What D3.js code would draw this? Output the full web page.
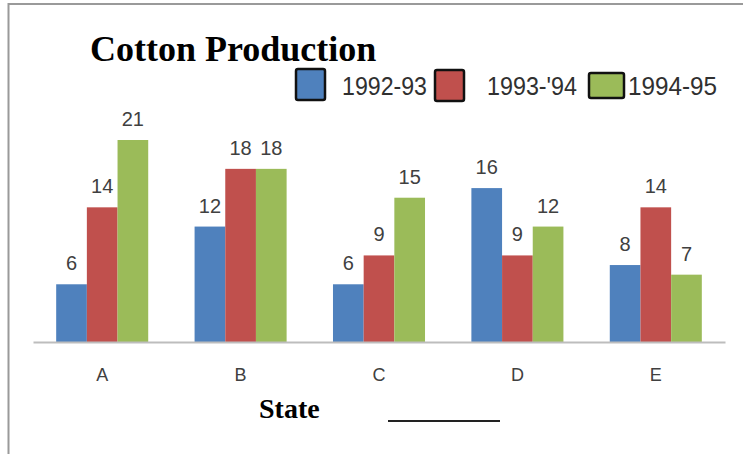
<!DOCTYPE html>
<html><head><meta charset="utf-8">
<script src="https://cdn.jsdelivr.net/npm/d3@7"></script>
<style>body{margin:0;background:#fff}svg{display:block}</style>
</head><body>
<script>
const categories = ["A","B","C","D","E"];
const seriesNames = ["1992-93","1993-'94","1994-95"];
const s1992 = [6,12,6,16,8];
const s1993 = [14,18,9,9,14];
const s1994 = [21,18,15,12,7];
const colors = ["#4f81bd","#c0504d","#9bbb59"];
const series = [s1992, s1993, s1994];

const W = 743, H = 454;
const svg = d3.select("body").append("svg").attr("width", W).attr("height", H);

// frame
svg.append("line").attr("x1",8).attr("x2",W).attr("y1",4).attr("y2",4).attr("stroke","#9a9a9a").attr("stroke-width",2);
svg.append("line").attr("x1",8.5).attr("x2",8.5).attr("y1",3).attr("y2",H).attr("stroke","#9a9a9a").attr("stroke-width",2);

const x0 = d3.scaleBand().domain(categories).range([33,725]).paddingInner(0.335).paddingOuter(0.1675);
const x1 = d3.scaleBand().domain(d3.range(3)).range([0, x0.bandwidth()]);
const y = d3.scaleLinear().domain([0,21]).range([342,140]);

const g = svg.append("g");
categories.forEach((c, ci) => {
  series.forEach((s, si) => {
    const v = s[ci];
    g.append("rect")
      .attr("x", x0(c) + x1(si))
      .attr("width", x1.bandwidth())
      .attr("y", y(v))
      .attr("height", y(0) - y(v))
      .attr("fill", colors[si]);
    g.append("text")
      .attr("x", x0(c) + x1(si) + x1.bandwidth()/2)
      .attr("y", y(v) - 14)
      .attr("text-anchor","middle")
      .attr("font-family","'Liberation Sans', Arial, sans-serif")
      .attr("font-size",20)
      .attr("fill","#404040")
      .text(v);
  });
});

// axis
const axis = d3.axisBottom(x0).tickSize(0).tickPadding(0);
const ax = svg.append("g").attr("transform","translate(0,342)").call(axis);
ax.select(".domain").attr("stroke","#bdbdbd").attr("stroke-width",2);
ax.selectAll(".tick text")
  .attr("y", 39).attr("dy", null)
  .attr("font-family","'Liberation Sans', Arial, sans-serif")
  .attr("font-size",18).attr("fill","#404040");

// title
svg.append("text").attr("x",90).attr("y",61)
  .attr("font-family","'Liberation Serif', 'Times New Roman', serif")
  .attr("font-weight","bold").attr("font-size",36).attr("fill","#000")
  .text("Cotton Production");

// axis title
svg.append("text").attr("x",259).attr("y",418)
  .attr("font-family","'Liberation Serif', 'Times New Roman', serif")
  .attr("font-weight","bold").attr("font-size",28).attr("fill","#000")
  .text("State");
svg.append("line").attr("x1",388).attr("x2",500).attr("y1",421).attr("y2",421).attr("stroke","#222").attr("stroke-width",2);

// legend
const legBoxes = [[296,69,29,31],[435,70,29,31],[589,73,35,25]];
const legText = [[342,85],[487,90],[628,89]];
seriesNames.forEach((n,i) => {
  const b = legBoxes[i];
  svg.append("rect").attr("x",b[0]).attr("y",b[1]).attr("width",b[2]).attr("height",b[3])
    .attr("fill",colors[i]).attr("stroke","#111").attr("stroke-width",2.5).attr("rx",2);
  svg.append("text").attr("x",legText[i][0]).attr("y",95)
    .attr("font-family","'Liberation Sans', Arial, sans-serif")
    .attr("font-size",26).attr("fill","#303030")
    .attr("textLength",legText[i][1]).attr("lengthAdjust","spacingAndGlyphs")
    .text(n);
});
</script>
</body></html>
